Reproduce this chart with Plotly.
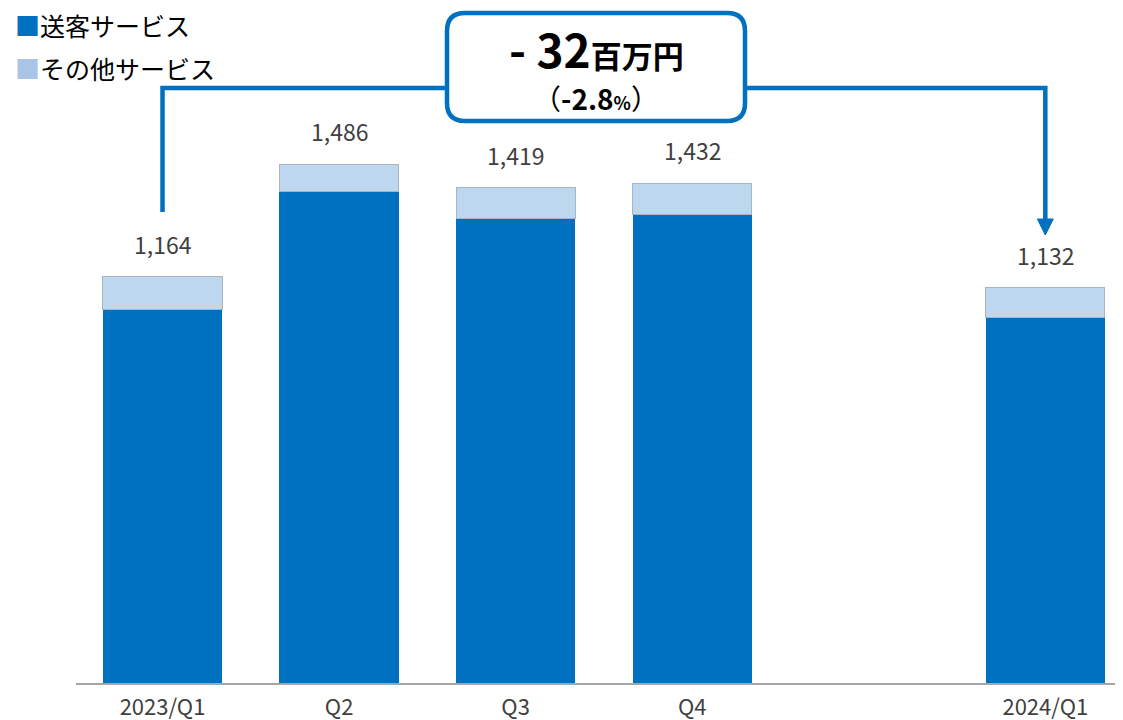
import plotly.graph_objects as go

# ---- data ----
slots = ["2023/Q1", "Q2", "Q3", "Q4", None, "2024/Q1"]
categories = ["2023/Q1", "Q2", "Q3", "Q4", "2024/Q1"]
sokyaku = [1069, 1409, 1330, 1341, 1046]       # 送客サービス
sonota = [95, 77, 89, 91, 86]                  # その他サービス
totals = [1164, 1486, 1419, 1432, 1132]
total_labels = ["1,164", "1,486", "1,419", "1,432", "1,132"]
diff_main = "- 32"
diff_unit = "百万円"
diff_pct = "-2.8"

DARK = "#0070C0"
LIGHT = "#BDD7EE"
LEG_LIGHT = "#A9C4E6"
TXT = "#404040"
JP = "Noto Sans CJK JP"

xpos = [slots.index(c) for c in categories]

# page offset (body margin) compensation
OFF = 8
W, H = 1123, 720
ML, MR, MT = 76 - OFF, OFF, 0
BASE = 683 - OFF              # axis baseline in figure pixels
MB = H - BASE
PW, PH = W - ML - MR, BASE - MT
YMAX = PH / 0.349
XR = [-0.49, 5.44]

fig = go.Figure()
fig.add_bar(x=xpos, y=sokyaku, name="送客サービス", marker=dict(color=DARK, line=dict(width=0)))
fig.add_bar(x=xpos, y=sonota, name="その他サービス",
            marker=dict(color=LIGHT, line=dict(color="#A6B4C4", width=1)))

for xp, t, lab in zip(xpos, totals, total_labels):
    fig.add_annotation(x=xp, y=t, text=lab, showarrow=False, yanchor="bottom", yshift=14,
                       font=dict(family=JP, size=23, color=TXT))

# page pixel helpers -> paper / data coords
def px(X):
    return (X - OFF - ML) / PW

def py(Y):
    return (BASE - (Y - OFF)) / PH

def ydata(Y):
    return py(Y) * YMAX

# callout connector line (data x)
x_from = xpos[0]
x_to = xpos[-1]
ytop = ydata(88)
fig.add_shape(type="path", xref="x", yref="y",
              path=f"M {x_from},{ydata(212)} L {x_from},{ytop} L {x_to},{ytop} L {x_to},{ydata(222)}",
              line=dict(color=DARK, width=4.5))
# arrowhead
fig.add_shape(type="path", xref="x", yref="y",
              path=f"M {x_to-0.045},{ydata(219)} L {x_to+0.045},{ydata(219)} L {x_to},{ydata(235)} Z",
              fillcolor=DARK, line=dict(color=DARK, width=1))

# rounded callout box
bx0, bx1, by0, by1, r = 447, 745, 13, 121, 18
path = (f"M {px(bx0+r)},{py(by0)} L {px(bx1-r)},{py(by0)} "
        f"Q {px(bx1)},{py(by0)} {px(bx1)},{py(by0+r)} "
        f"L {px(bx1)},{py(by1-r)} Q {px(bx1)},{py(by1)} {px(bx1-r)},{py(by1)} "
        f"L {px(bx0+r)},{py(by1)} Q {px(bx0)},{py(by1)} {px(bx0)},{py(by1-r)} "
        f"L {px(bx0)},{py(by0+r)} Q {px(bx0)},{py(by0)} {px(bx0+r)},{py(by0)} Z")
fig.add_shape(type="path", xref="paper", yref="paper", path=path,
              fillcolor="white", line=dict(color=DARK, width=4.5), layer="above")

fig.add_annotation(xref="paper", yref="paper", x=px(596), y=py(48), xanchor="center", yanchor="middle",
                   showarrow=False,
                   text=f"<b><span style='font-size:46px'>{diff_main}</span><span style='font-size:31px'>{diff_unit}</span></b>",
                   font=dict(family=JP, color="black"))
fig.add_annotation(xref="paper", yref="paper", x=px(596), y=py(98), xanchor="center", yanchor="middle",
                   showarrow=False,
                   text=f"（<b>{diff_pct}</b><span style='font-size:18px'><b>%</b></span>）",
                   font=dict(family=JP, size=28, color="black"))

# legend (manual)
fig.add_annotation(xref="paper", yref="paper", x=px(14), y=py(25), xanchor="left", yanchor="middle",
                   showarrow=False, borderpad=0,
                   text=f"<span style='color:{DARK}'>■</span>送客サービス",
                   font=dict(family=JP, size=25, color="black"))
fig.add_annotation(xref="paper", yref="paper", x=px(14), y=py(68), xanchor="left", yanchor="middle",
                   showarrow=False, borderpad=0,
                   text=f"<span style='color:{LEG_LIGHT}'>■</span>その他サービス",
                   font=dict(family=JP, size=25, color="black"))

fig.update_layout(
    width=W, height=H, barmode="stack", bargap=0.325, showlegend=False,
    plot_bgcolor="white", paper_bgcolor="white",
    margin=dict(l=ML, r=MR, t=MT, b=MB),
    xaxis=dict(range=XR, tickvals=xpos, ticktext=categories, showgrid=False, zeroline=False,
               showline=True, linecolor="#A6A6A6", linewidth=2, ticks="", ticklabelstandoff=4,
               tickfont=dict(family="Liberation Sans Narrow, " + JP, size=22, color=TXT)),
    yaxis=dict(range=[0, YMAX], visible=False, showgrid=False, zeroline=False),
)

fig.write_html("out.html")
